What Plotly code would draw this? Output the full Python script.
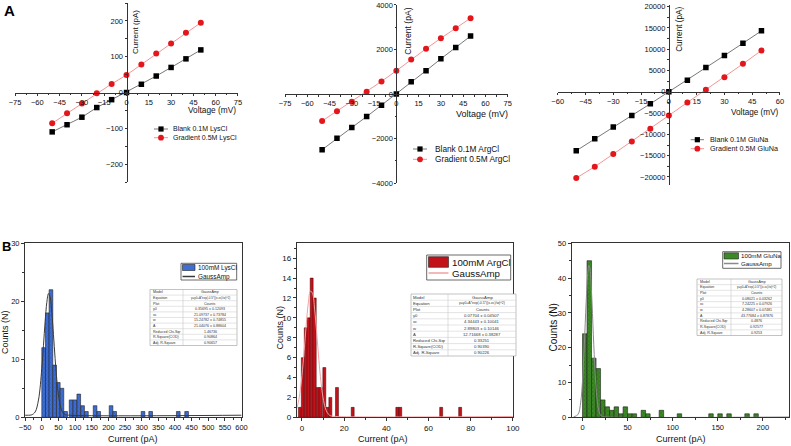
import plotly.graph_objects as go

W, H = 791, 446
FONT = "Arial, 'Liberation Sans', sans-serif"

# ---------------- data ----------------
voltage = [-50, -40, -30, -20, -10, 0, 10, 20, 30, 40, 50]
lys_blank = [-110, -90, -69, -42, -20, 0, 23, 46, 70, 94, 119]
lys_grad = [-86, -58, -31, -2, 24, 49, 78, 109, 137, 167, 195]
arg_blank = [-2500, -1985, -1505, -1015, -505, 0, 550, 1045, 1580, 2090, 2600]
arg_grad = [-1210, -775, -345, 105, 565, 1045, 1550, 2030, 2505, 2955, 3405]
glu_blank = [-13850, -11030, -8290, -5560, -2820, 0, 2740, 5710, 8530, 11420, 14320]
glu_grad = [-20270, -17600, -14630, -11660, -8690, -5560, -2500, 470, 3440, 6570, 9700]

lys_hist_x = [5.5, 16.5, 27.5, 38.5, 49.5, 60.5, 71.5, 88, 99.5, 111, 122.5, 134,
              160, 171, 208, 219, 304, 327, 410, 435]
lys_hist_y = [12, 18, 22, 9, 6, 5, 1, 3, 3, 4, 2, 1, 2, 1, 2, 1, 1, 1, 1, 1]
lys_fit_x = [-50, -40, -30, -20, -10, 0, 5, 10, 15, 20, 25, 30, 35, 40, 45, 50, 60, 70, 80, 600]
lys_fit_y = [0.36, 0.36, 0.43, 0.92, 2.98, 8.44, 12.41, 16.5, 19.78, 21.33, 20.72, 18.09,
             14.25, 10.12, 6.52, 3.85, 1.17, 0.48, 0.37, 0.36]

arg_hist_x = [-1.0, 0.4, 1.8, 3.2, 4.6, 6.05, 7.5, 8.9, 10.6, 12.0, 13.45, 16.6, 24.05,
              45.2, 46.6, 66.0, 75.0]
arg_hist_y = [1, 6, 9, 10, 14, 12, 3, 3, 5, 1, 2, 3, 1, 1, 1, 1, 1]
arg_fit_x = [-2.5, -2, -1, 0, 1, 2, 3, 4, 5, 6, 7, 8, 9, 10, 11, 12, 13, 14, 16, 100]
arg_fit_y = [0.85, 1.23, 2.40, 4.21, 6.61, 9.25, 11.50, 12.70, 12.47, 10.87, 8.43, 5.81,
             3.57, 1.97, 0.99, 0.47, 0.22, 0.13, 0.08, 0.08]

glu_hist_x = [2.5, 7.5, 12.5, 17.5, 22.5, 27.5, 32.5, 37.5, 42.5, 47.5, 52.5, 57.5,
              67.5, 72.5, 87.5, 107.5, 142.5, 152.5, 162.5, 182.5, 192.5]
glu_hist_y = [24, 45, 17, 14, 5, 3, 2, 3, 1, 3, 1, 1, 2, 1, 2, 1, 1, 1, 1, 1, 1]
glu_fit_x = [-10, -5, -2, 0, 2, 4, 6, 7, 8, 10, 12, 14, 16, 18, 20, 22, 25, 229]
glu_fit_y = [0.09, 0.82, 4.36, 10.59, 20.8, 32.96, 42.05, 43.78, 43.16, 35.65, 23.73,
             12.70, 5.49, 1.96, 0.60, 0.20, 0.09, 0.08]

table_labels = ["Model", "Equation", "Plot", "y0", "xc", "w", "A",
                "Reduced Chi-Sqr", "R-Square(COD)", "Adj. R-Square"]
lys_table = ["GaussAmp", "y=y0+A*exp(-0.5*((x-xc)/w)^2)", "Counts",
             "0.35695 ± 0.12093", "21.09737 ± 0.73784", "15.24782 ± 0.74855",
             "21.04076 ± 0.88604", "1.46736", "0.90864", "0.90657"]
arg_table = ["GaussAmp", "y=y0+A*exp(-0.5*((x-xc)/w)^2)", "Counts",
             "0.07704 ± 0.04507", "4.34443 ± 0.10041", "2.89803 ± 0.10146",
             "12.71668 ± 0.38287", "0.33251", "0.90390", "0.90226"]
glu_table = ["GaussAmp", "y=y0+A*exp(-0.5*((x-xc)/w)^2)", "Counts",
             "0.08021 ± 0.03262", "7.24225 ± 0.07926", "4.28607 ± 0.07481",
             "43.77684 ± 0.87876", "0.4876", "0.92577", "0.9253"]


def px(x):
    return x / W


def py(y):
    return 1 - y / H


fig = go.Figure()
shapes = []
annos = []


def text(x, y, s, size, xanchor="left", angle=0, bold=False, color="#111"):
    annos.append(dict(x=px(x), y=py(y), xref="paper", yref="paper", text=s,
                      showarrow=False, xanchor=xanchor, yanchor="middle",
                      textangle=angle, borderpad=0,
                      font=dict(family=FONT, size=size, color=color,
                                weight="bold" if bold else "normal")))


# ---------------- top IV panels ----------------
top_specs = [
    (1, lys_blank, lys_grad, (15, 238), (3, 182), (-75.01, 75.01), (-250, 250), 100, 50),
    (2, arg_blank, arg_grad, (285, 507.7), (4.7, 183.3), (-75.01, 75.01), (-4010, 4010), 2000, 1000),
    (3, glu_blank, glu_grad, (557.7, 780), (5, 185), (-60.01, 60.01), (-21900, 20400), 5000, 2500),
]
for idx, blank, grad, xd, yd, xr, yr, dty, mny in top_specs:
    xa = "x" if idx == 1 else f"x{idx}"
    ya = "y" if idx == 1 else f"y{idx}"
    fig.add_trace(go.Scatter(x=voltage, y=blank, mode="lines+markers", xaxis=xa, yaxis=ya,
                             marker=dict(symbol="square", size=5.5, color="black"),
                             line=dict(color="#555555", width=0.8), showlegend=False))
    fig.add_trace(go.Scatter(x=voltage, y=grad, mode="lines+markers", xaxis=xa, yaxis=ya,
                             marker=dict(symbol="circle", size=6, color="#e3161c"),
                             line=dict(color="#f07a7a", width=0.8), showlegend=False))
    xdom = [px(xd[0]), px(xd[1])]
    ydom = [py(yd[1]), py(yd[0])]
    xzero = xdom[0] + (0 - xr[0]) / (xr[1] - xr[0]) * (xdom[1] - xdom[0])
    yzero = ydom[0] + (0 - yr[0]) / (yr[1] - yr[0]) * (ydom[1] - ydom[0])
    key = "" if idx == 1 else str(idx)
    fig.update_layout(**{
        f"xaxis{key}": dict(domain=xdom, range=list(xr), anchor="free", position=yzero,
                            showline=True, linecolor="#333", linewidth=1, showgrid=False,
                            zeroline=False, ticks="outside", ticklen=2, tickcolor="#333",
                            dtick=15, tick0=0, automargin=False,
                            minor=dict(ticks="outside", ticklen=1.5, dtick=7.5, tickcolor="#333"),
                            tickfont=dict(family=FONT, size=7.5, color="#111")),
        f"yaxis{key}": dict(domain=ydom, range=list(yr), anchor="free", position=xzero,
                            showline=True, linecolor="#333", linewidth=1, showgrid=False,
                            zeroline=False, ticks="outside", ticklen=2, tickcolor="#333",
                            dtick=dty, tick0=0, tickformat="d", exponentformat="none",
                            automargin=False,
                            minor=dict(ticks="outside", ticklen=1.5, dtick=mny, tickcolor="#333"),
                            tickfont=dict(family=FONT, size=7.5, color="#111")),
    })

# top axis titles
text(136, 32, "Current (pA)", 8, "center", -90)
text(212.5, 110, "Voltage (mV)", 8.3, "center")
text(407.7, 31, "Current (pA)", 8.6, "center", -90)
text(481.7, 113.5, "Voltage (mV)", 9, "center")
text(679.3, 29.5, "Current (pA)", 8.2, "center", -90)
text(754.7, 112.5, "Voltage (mV)", 8.2, "center")

# top legends (manual)
top_leg = [
    (154, 168, 129, 137.7, 172, 7, "Blank 0.1M LysCl", "Gradient 0.5M LysCl"),
    (413, 427, 149, 159.3, 434, 8.3, "Blank 0.1M ArgCl", "Gradient 0.5M ArgCl"),
    (690.7, 704, 139.7, 148.7, 709, 7.2, "Blank 0.1M GluNa", "Gradient 0.5M GluNa"),
]
for x0, x1, yb, yg, xt, fs, lb, lg in top_leg:
    xm = (x0 + x1) / 2
    shapes.append(dict(type="line", xref="paper", yref="paper", x0=px(x0), x1=px(x1),
                       y0=py(yb), y1=py(yb), line=dict(color="#555", width=0.8)))
    shapes.append(dict(type="rect", xref="paper", yref="paper", x0=px(xm - 2.6), x1=px(xm + 2.6),
                       y0=py(yb + 2.6), y1=py(yb - 2.6), fillcolor="black", line=dict(width=0)))
    shapes.append(dict(type="line", xref="paper", yref="paper", x0=px(x0), x1=px(x1),
                       y0=py(yg), y1=py(yg), line=dict(color="#f07a7a", width=0.8)))
    shapes.append(dict(type="circle", xref="paper", yref="paper", x0=px(xm - 2.9), x1=px(xm + 2.9),
                       y0=py(yg + 2.9), y1=py(yg - 2.9), fillcolor="#e3161c", line=dict(width=0)))
    text(xt, yb, lb, fs)
    text(xt, yg, lg, fs)

# ---------------- bottom histogram panels ----------------
bot_specs = [
    (4, lys_hist_x, lys_hist_y, 11, lys_fit_x, lys_fit_y, (25, 241.7), (-50.5, 600.5), (0, 30),
     50, 25, 10, 5, "#3e6fd6", "#1c3d8c", "#3a3a3a", 7.5),
    (5, arg_hist_x, arg_hist_y, 1.4, arg_fit_x, arg_fit_y, (296.7, 513.3), (-2.5, 100.2), (0, 17.5),
     20, 10, 2, 1, "#c4121a", None, "#f2a0a0", 8),
    (6, glu_hist_x, glu_hist_y, 5, glu_fit_x, glu_fit_y, (571.7, 789), (-12, 229), (0, 50),
     50, 25, 10, 5, "#3c8a26", "#17450c", "#8a8a8a", 7.5),
]
for idx, hx, hy, bw, fx, fy, xd, xr, yr, dtx, mnx, dty, mny, col, fg, fitcol, tfs in bot_specs:
    xa, ya = f"x{idx}", f"y{idx}"
    marker = dict(color=col, line=dict(color="#222", width=0.6))
    if fg:
        marker["pattern"] = dict(shape="x", fgcolor=fg, bgcolor=col, size=3, solidity=0.25)
    else:
        marker["line"] = dict(color="#3a0000", width=0.5)
    fig.add_trace(go.Bar(x=hx, y=hy, width=bw, marker=marker, xaxis=xa, yaxis=ya,
                         showlegend=False))
    fig.add_trace(go.Scatter(x=fx, y=fy, mode="lines", xaxis=xa, yaxis=ya,
                             line=dict(color=fitcol, width=1, shape="spline"), showlegend=False))
    fig.update_layout(**{
        f"xaxis{idx}": dict(domain=[px(xd[0]), px(xd[1])], range=list(xr), anchor=ya,
                            showline=True, mirror=True, linecolor="#333", linewidth=1,
                            showgrid=False, zeroline=False, ticks="outside", ticklen=3,
                            tickcolor="#333", dtick=dtx, tick0=0, automargin=False,
                            minor=dict(ticks="outside", ticklen=2, dtick=mnx, tickcolor="#333"),
                            tickfont=dict(family=FONT, size=tfs, color="#111")),
        f"yaxis{idx}": dict(domain=[py(417.3), py(243.3)], range=list(yr), anchor=xa,
                            showline=True, mirror=True, linecolor="#333", linewidth=1,
                            showgrid=False, zeroline=False, ticks="outside", ticklen=3,
                            tickcolor="#333", dtick=dty, tick0=0, automargin=False,
                            minor=dict(ticks="outside", ticklen=2, dtick=mny, tickcolor="#333"),
                            tickfont=dict(family=FONT, size=tfs, color="#111")),
    })

# bottom axis titles
text(133, 439, "Current (pA)", 9, "center")
text(5, 332, "Counts (N)", 9, "center", -90)
text(383, 439, "Current (pA)", 9, "center")
text(279.5, 328, "Counts (N)", 9, "center", -90)
text(681, 439, "Current (pA)", 9, "center")
text(552.5, 328, "Counts (N)", 10, "center", -90)

# bottom legends (manual)
bot_leg = [
    ((181, 263.3, 236.7, 280), (182.5, 264.5, 195, 270.5), 276.5, 197, 6.4,
     "#3e6fd6", "#3a3a3a", "100mM LysCl"),
    ((426.7, 255, 510.7, 280), (428.5, 256.7, 448.5, 267.3), 273, 451, 9.7,
     "#c4121a", "#f2a0a0", "100mM ArgCl"),
    ((722.7, 251.7, 781, 268.3), (724, 252.8, 738.5, 259), 263.5, 740, 6.2,
     "#3c8a26", "#8a8a8a", "100mM GluNa"),
]
for box, sw, yl, xt, fs, col, lc, lab in bot_leg:
    shapes.append(dict(type="rect", xref="paper", yref="paper", x0=px(box[0]), x1=px(box[2]),
                       y0=py(box[3]), y1=py(box[1]), line=dict(color="#444", width=0.8),
                       fillcolor="white", layer="above"))
    shapes.append(dict(type="rect", xref="paper", yref="paper", x0=px(sw[0]), x1=px(sw[2]),
                       y0=py(sw[3]), y1=py(sw[1]), line=dict(color="#222", width=0.6),
                       fillcolor=col, layer="above"))
    shapes.append(dict(type="line", xref="paper", yref="paper", x0=px(sw[0]), x1=px(sw[2]),
                       y0=py(yl), y1=py(yl), line=dict(color=lc, width=1.5), layer="above"))
    text(xt, (sw[1] + sw[3]) / 2, lab, fs)
    text(xt, yl, "GaussAmp", fs)

# fit result tables (manual)
tables = [
    (lys_table, 150, 237, 289.5, 345.5, 183, 3.6),
    (arg_table, 411, 516, 294, 356, 448, 4.2),
    (glu_table, 697, 782, 279, 335.5, 731, 3.6),
]
for vals, l, r, t, b, d, fs in tables:
    rh = (b - t) / len(table_labels)
    shapes.append(dict(type="rect", xref="paper", yref="paper", x0=px(l), x1=px(r),
                       y0=py(b), y1=py(t), line=dict(color="#9a9a9a", width=0.6),
                       fillcolor="white", layer="above"))
    shapes.append(dict(type="line", xref="paper", yref="paper", x0=px(d), x1=px(d),
                       y0=py(b), y1=py(t), line=dict(color="#bbbbbb", width=0.5), layer="above"))
    for i, (lab, val) in enumerate(zip(table_labels, vals)):
        if i > 0:
            shapes.append(dict(type="line", xref="paper", yref="paper", x0=px(l), x1=px(r),
                               y0=py(t + i * rh), y1=py(t + i * rh),
                               line=dict(color="#c8c8c8", width=0.5), layer="above"))
        yc = t + (i + 0.5) * rh
        text(l + 1.5, yc, lab, fs, color="#333")
        text((d + r) / 2, yc, val, fs * (0.82 if i == 1 else 1), "center", color="#333")

# panel letters
text(9, 11, "A", 15, "center", bold=True, color="black")
text(6, 246, "B", 13, "center", bold=True, color="black")

fig.update_layout(width=W, height=H, autosize=False,
                  margin=dict(l=0, r=0, t=0, b=0, pad=0, autoexpand=False),
                  paper_bgcolor="white", plot_bgcolor="white", showlegend=False,
                  shapes=shapes, annotations=annos, font=dict(family=FONT))

fig.write_html("out.html", config={"displayModeBar": False, "staticPlot": True},
               post_script="document.body.style.margin='0';document.body.style.padding='0';"
                           "document.body.style.overflow='hidden';")
